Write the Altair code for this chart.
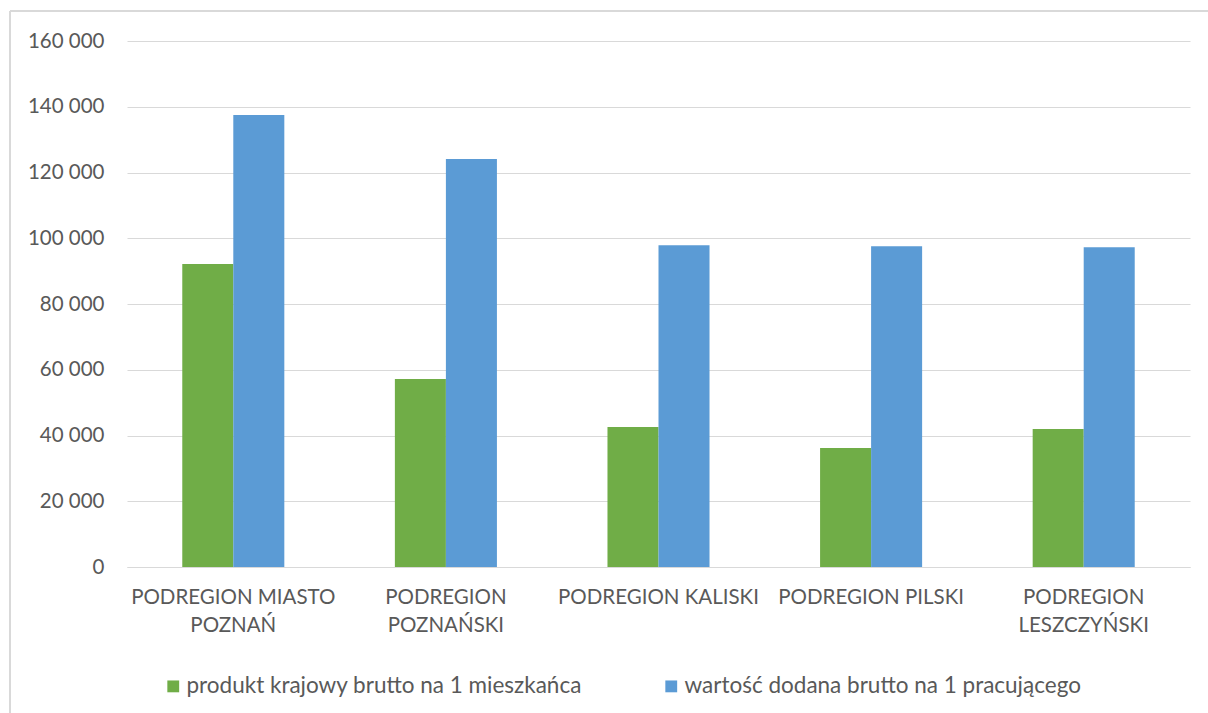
import altair as alt
import pandas as pd

# Regions (subregions of Wielkopolska)
categories = [
    "PODREGION MIASTO POZNAŃ",
    "PODREGION POZNAŃSKI",
    "PODREGION KALISKI",
    "PODREGION PILSKI",
    "PODREGION LESZCZYŃSKI",
]
series_names = [
    "produkt krajowy brutto na 1 mieszkańca",
    "wartość dodana brutto na 1 pracującego",
]
gdp_per_capita = [92200, 57200, 42600, 36200, 42000]
gva_per_worker = [137500, 124100, 97900, 97600, 97300]
y_ticks = [0, 20000, 40000, 60000, 80000, 100000, 120000, 140000, 160000]

# Category labels broken onto two lines where they are long
wrapped = {
    "PODREGION MIASTO POZNAŃ": ["PODREGION MIASTO", "POZNAŃ"],
    "PODREGION POZNAŃSKI": ["PODREGION", "POZNAŃSKI"],
    "PODREGION LESZCZYŃSKI": ["PODREGION", "LESZCZYŃSKI"],
}

rows = []
for cat, a, b in zip(categories, gdp_per_capita, gva_per_worker):
    rows.append({"region": cat, "series": series_names[0], "value": a})
    rows.append({"region": cat, "series": series_names[1], "value": b})
df = pd.DataFrame(rows)

label_expr = "datum.label"
for key, lines in reversed(list(wrapped.items())):
    arr = "[" + ", ".join("'" + s + "'" for s in lines) + "]"
    label_expr = f"datum.label == '{key}' ? {arr} : ({label_expr})"

FONT = "Lato"
TEXT = "#595959"
GRID = "#d9d9d9"

bars = alt.Chart(df).mark_bar().encode(
    x=alt.X(
        "region:N",
        sort=categories,
        scale=alt.Scale(paddingInner=0.52, paddingOuter=0.26),
        axis=alt.Axis(
            title=None,
            labelAngle=0,
            ticks=False,
            domainColor=GRID,
            domainWidth=1,
            labelPadding=20,
            labelFontSize=20.5,
            labelColor=TEXT,
            labelFont=FONT,
            labelLineHeight=28,
            labelLimit=400,
            labelExpr=label_expr,
        ),
    ),
    xOffset=alt.XOffset("series:N", sort=series_names),
    y=alt.Y(
        "value:Q",
        scale=alt.Scale(domain=[0, 160000], nice=False),
        axis=alt.Axis(
            title=None,
            values=y_ticks,
            domain=False,
            ticks=False,
            gridColor=GRID,
            gridWidth=1,
            labelPadding=23,
            labelFontSize=20.5,
            labelColor=TEXT,
            labelFont=FONT,
            labelExpr="replace(format(datum.value, ','), ',', ' ')",
        ),
    ),
    color=alt.Color(
        "series:N",
        sort=series_names,
        scale=alt.Scale(domain=series_names, range=["#70ad47", "#5b9bd5"]),
        legend=alt.Legend(
            title=None,
            orient="none",
            direction="horizontal",
            legendX=35,
            legendY=634,
            symbolType="square",
            symbolSize=140,
            symbolStrokeWidth=0,
            labelFontSize=22.5,
            labelFont=FONT,
            labelColor=TEXT,
            labelOffset=2,
            columnPadding=78,
            labelLimit=500,
        ),
    ),
)

# Light frame around the chart
frame_top = alt.Chart(df).mark_rule(color=GRID, strokeWidth=1.5).encode(
    x=alt.value(-117), x2=alt.value(1120), y=alt.value(-30)
)
frame_left = alt.Chart(df).mark_rule(color=GRID, strokeWidth=1.5).encode(
    x=alt.value(-117), y=alt.value(-30), y2=alt.value(700)
)

chart = (
    alt.layer(frame_top, frame_left, bars)
    .properties(
        width=1063,
        height=526,
        autosize=alt.AutoSizeParams(type="none"),
        padding={"left": 127, "top": 41, "right": 18, "bottom": 146},
        background="white",
    )
    .configure_view(stroke=None)
)

chart.save("out.html", embed_options={"renderer": "svg", "actions": False})
